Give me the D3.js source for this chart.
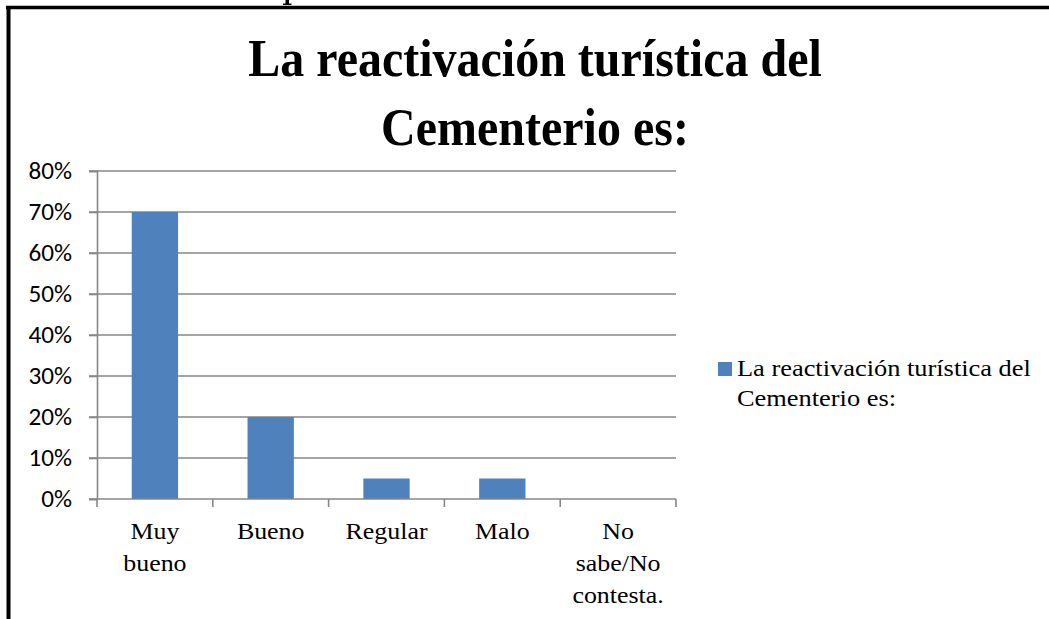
<!DOCTYPE html>
<html>
<head>
<meta charset="utf-8">
<script src="https://cdn.jsdelivr.net/npm/d3@7"></script>
<style>
  html, body { margin: 0; padding: 0; background: #fff; }
  svg { display: block; }
</style>
</head>
<body>
<svg id="chart" width="1049" height="619"></svg>
<script>
// ---- data ----
const titleLines = ["La reactivación turística del", "Cementerio es:"];
const seriesName = ["La reactivación turística del", "Cementerio es:"];
const categories = ["Muy bueno", "Bueno", "Regular", "Malo", "No sabe/No contesta."];
const values = [0.70, 0.20, 0.05, 0.05, 0.00];
const yTicks = [0, 0.1, 0.2, 0.3, 0.4, 0.5, 0.6, 0.7, 0.8];

const svg = d3.select("#chart");
const W = 1049, H = 619;
const plot = { left: 97, right: 676, top: 171, bottom: 499 };
const axisColor = "#878787";
const barColor = "#4f81bd";
const serif = "'Liberation Serif','Times New Roman',serif";

// frame (partially cropped)
svg.append("line").attr("x1", 6).attr("x2", W).attr("y1", 7.5).attr("y2", 7.5)
  .attr("stroke", "#000").attr("stroke-width", 3.5);
svg.append("line").attr("x1", 8.5).attr("x2", 8.5).attr("y1", 6).attr("y2", H)
  .attr("stroke", "#000").attr("stroke-width", 4);
// cropped glyph descender above the frame
svg.append("rect").attr("x", 285.5).attr("y", 0).attr("width", 3.5).attr("height", 5).attr("fill", "#000");
svg.append("rect").attr("x", 283).attr("y", 3.5).attr("width", 8.5).attr("height", 1.5).attr("fill", "#000");

const x = d3.scaleBand().domain(categories).range([plot.left, plot.right]).paddingInner(0.6).paddingOuter(0.3);
const xOuter = d3.scaleBand().domain(categories).range([plot.left, plot.right]);
const y = d3.scaleLinear().domain([0, 0.8]).range([plot.bottom, plot.top]);

// gridlines
svg.append("g").selectAll("line").data(yTicks.filter(d => d > 0)).join("line")
  .attr("x1", plot.left - 8).attr("x2", plot.right)
  .attr("y1", d => y(d)).attr("y2", d => y(d))
  .attr("stroke", axisColor).attr("stroke-width", 1.6);

// y axis
const yAxis = svg.append("g").attr("transform", `translate(${plot.left},0)`)
  .call(d3.axisLeft(y).tickValues(yTicks).tickFormat(d3.format(".0%")).tickSize(8).tickPadding(17));
yAxis.select(".domain").attr("stroke", axisColor).attr("stroke-width", 1.6);
yAxis.selectAll(".tick line").attr("stroke", axisColor).attr("stroke-width", 1.6);
yAxis.selectAll(".tick text")
  .attr("x", 0)
  .attr("transform", "translate(-25,0) scale(1.05,1)")
  .attr("font-family", "Carlito, Calibri, 'Open Sans', sans-serif")
  .attr("font-size", 24).attr("fill", "#000");

// bars
svg.append("g").selectAll("rect").data(values).join("rect")
  .attr("x", (d, i) => x(categories[i]))
  .attr("width", x.bandwidth())
  .attr("y", d => y(d))
  .attr("height", d => y(0) - y(d))
  .attr("fill", barColor);

// x axis
const xAxisG = svg.append("g").attr("transform", `translate(0,${plot.bottom})`);
xAxisG.append("line").attr("x1", plot.left - 8).attr("x2", plot.right)
  .attr("stroke", axisColor).attr("stroke-width", 1.6);
const bounds = categories.map(c => xOuter(c)).concat([plot.right]);
xAxisG.selectAll("line.tk").data(bounds).join("line").attr("class", "tk")
  .attr("x1", d => d).attr("x2", d => d).attr("y1", 0).attr("y2", 8)
  .attr("stroke", axisColor).attr("stroke-width", 1.6);
const xl = xAxisG.selectAll("text.cat").data(categories).join("text").attr("class", "cat")
  .attr("transform", d => `translate(${xOuter(d) + xOuter.bandwidth() / 2},40) scale(1.08,1)`)
  .attr("text-anchor", "middle")
  .attr("font-family", serif)
  .attr("font-size", 24).attr("fill", "#000");
xl.each(function(d) {
  const t = d3.select(this);
  d.split(" ").forEach((w, i) => {
    t.append("tspan").attr("x", 0).attr("dy", i === 0 ? 0 : 32).text(w);
  });
});

// title
svg.append("g").selectAll("text").data(titleLines).join("text")
  .attr("transform", (d, i) => `translate(535,${76 + i * 69}) scale(1,1.12)`)
  .attr("text-anchor", "middle")
  .attr("font-family", serif)
  .attr("font-weight", "bold").attr("font-size", 48).attr("fill", "#000")
  .text(d => d);

// legend
const lg = svg.append("g");
lg.append("rect").attr("x", 718).attr("y", 362).attr("width", 14).attr("height", 14).attr("fill", barColor);
lg.selectAll("text").data(seriesName).join("text")
  .attr("transform", (d, i) => `translate(737,${376 + i * 30}) scale(1.1,1)`)
  .attr("font-family", serif)
  .attr("font-size", 24).attr("fill", "#000")
  .text(d => d);
</script>
</body>
</html>
